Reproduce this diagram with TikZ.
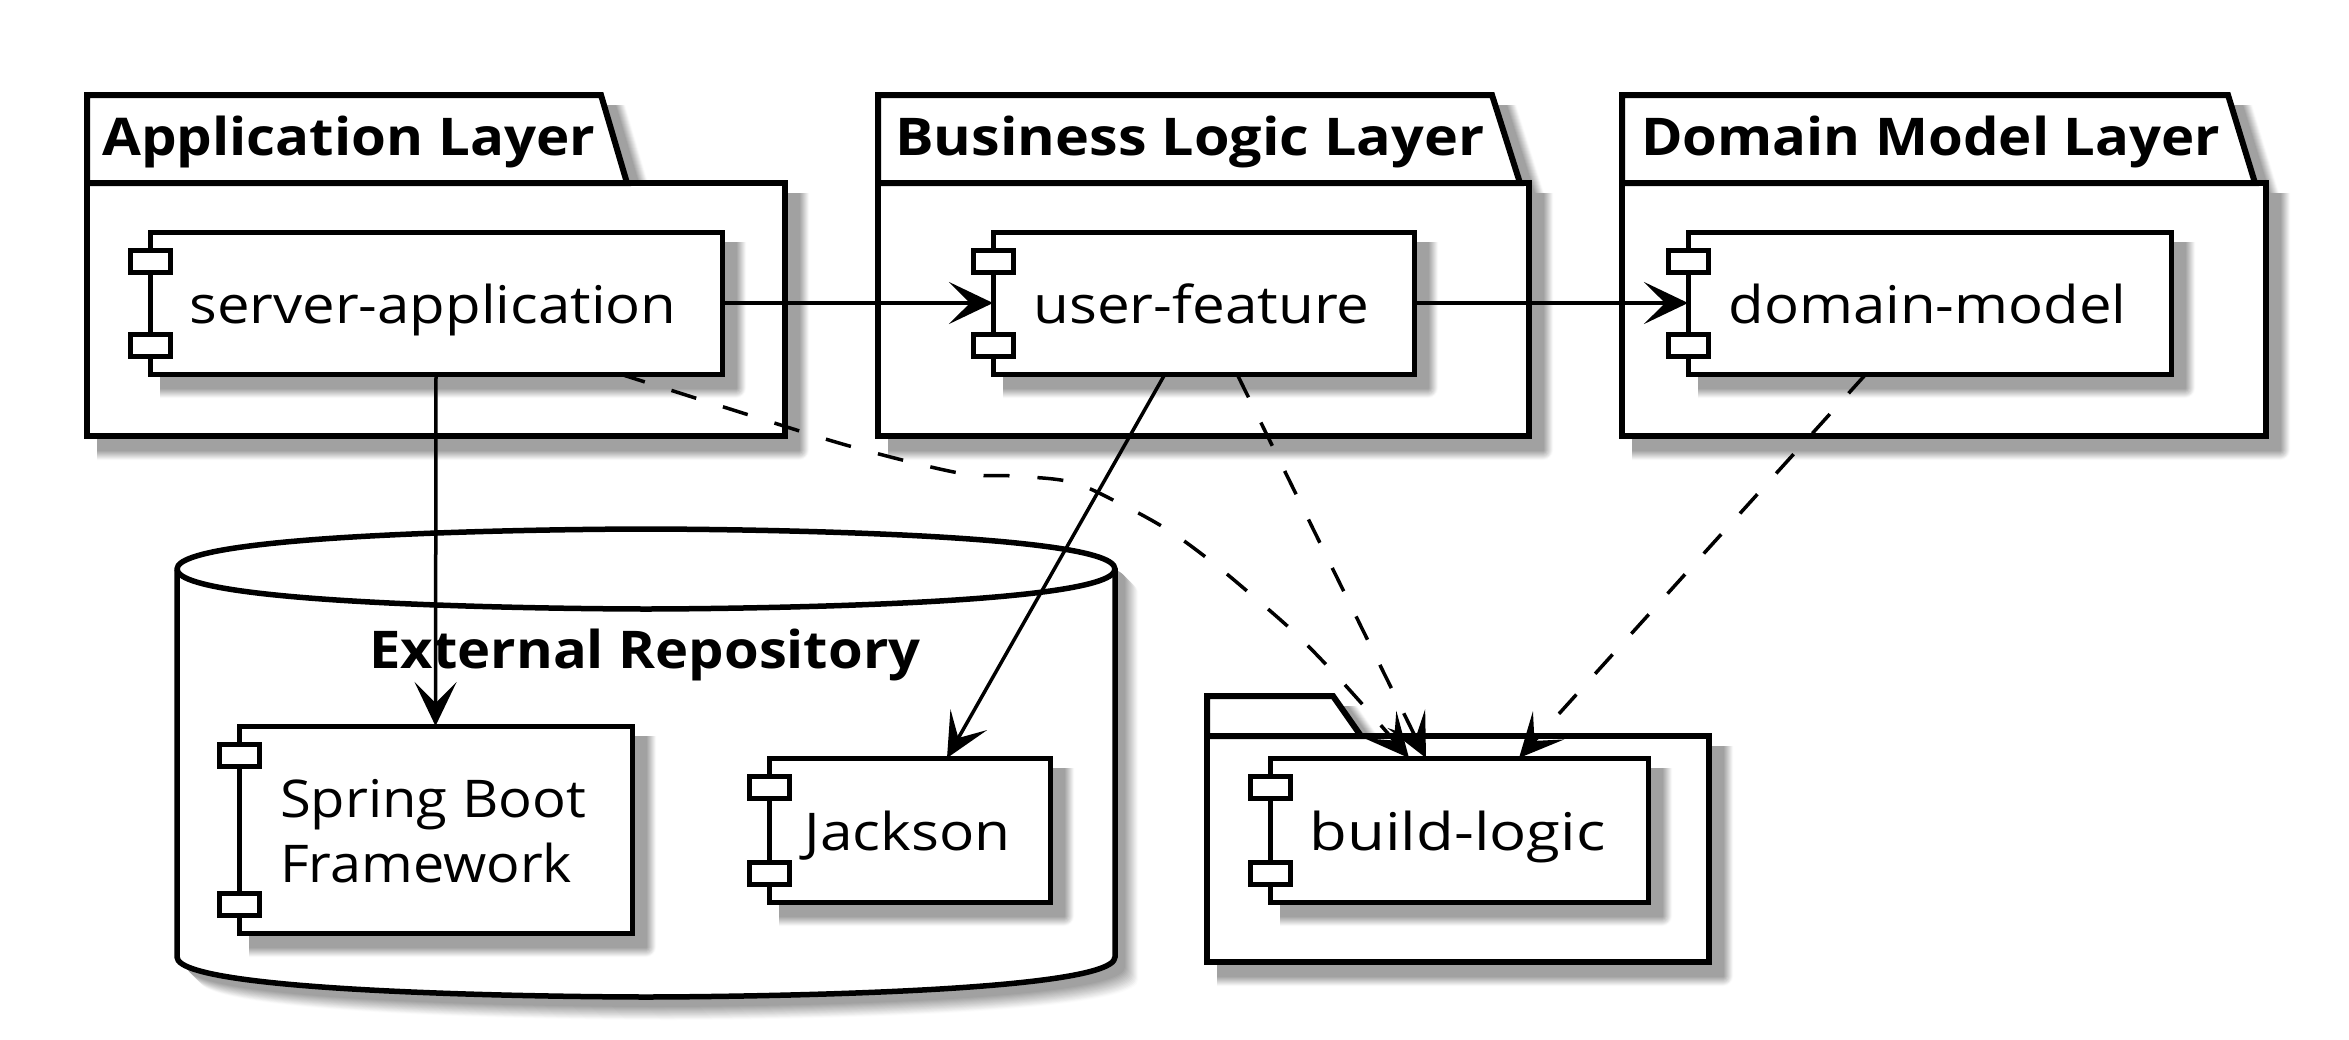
\documentclass[tikz,border=0pt]{standalone}
\usepackage{fontspec}
\usepackage{graphicx}
\setmainfont{Open Sans}
\usetikzlibrary{arrows.meta,calc}
\newcommand{\fitw}[2]{\resizebox{#1pt}{\height}{#2}}
\tikzset{
  compbox/.style={draw=black,fill=white,line width=5pt,inner sep=0pt,outer sep=0pt,text height=50pt,text depth=10pt,font=\fontsize{52}{65}\selectfont},
  compport/.style={draw=black,fill=white,line width=5pt},
  pkgbox/.style={draw=black,fill=white,line width=6pt,inner sep=0pt,outer sep=0pt},
  pkgtab/.style={draw=black,fill=white,line width=6pt,line join=miter},
  cyl/.style={draw=black,fill=white,line width=5.5pt},
  titletext/.style={inner sep=0pt,anchor=base west,font=\fontsize{52}{60}\selectfont\bfseries},
  uses/.style={draw=black,line width=3.5pt,-{Stealth[length=44pt,width=42pt,inset=21pt]}},
  dep/.style={uses,dash pattern=on 26pt off 28pt}
}
% rectangular shadow: l t r b
\newcommand{\rectshadow}[4]{%
  \foreach \k in {24,...,15}{%
    \pgfmathsetmacro{\p}{37*(24.5-\k)/9.5}%
    \pgfmathsetmacro{\rr}{max(\k-14,0.1)}%
    \fill[black!\p] (#1+10,#2+10) -- (#3+\k,#2+10) [rounded corners=\rr pt] -- (#3+\k,#4+\k) [sharp corners] -- (#1+10,#4+\k) -- cycle;
  }}
% component: name l t r b text
\newcommand{\comp}[6]{%
  \rectshadow{#2}{#3}{#4}{#5}%
  \pgfmathsetmacro{\ww}{#4-#2}\pgfmathsetmacro{\hh}{#5-#3}%
  \node[compbox,minimum width=\ww pt,minimum height=\hh pt] (#1) at ({(#2+#4)/2},{(#3+#5)/2}) {#6};
  \draw[compport] (#2-20,#3+18) rectangle (#2+20,#3+40);
  \draw[compport] (#2-20,#5-40) rectangle (#2+20,#5-18);
}
% package: name l tabtop bodytop r b tabTopRight tabBottomRight
\newcommand{\pkg}[8]{%
  \foreach \k in {24,...,15}{%
    \pgfmathsetmacro{\p}{37*(24.5-\k)/9.5}%
    \pgfmathsetmacro{\rr}{max(\k-14,0.1)}%
    \fill[black!\p] (#2+10,#3+10) -- (#7+\k,#3+10) -- (#8+\k,#4+10) -- (#5+\k,#4+10) [rounded corners=\rr pt] -- (#5+\k,#6+\k) [sharp corners] -- (#2+10,#6+\k) -- cycle;
  }
  \pgfmathsetmacro{\ww}{#5-#2}\pgfmathsetmacro{\hh}{#6-#4}%
  \node[pkgbox,minimum width=\ww pt,minimum height=\hh pt] (#1) at ({(#2+#5)/2},{(#4+#6)/2}) {};
  \draw[pkgtab] (#2,#4) -- (#2,#3) -- (#7,#3) -- (#8,#4) -- cycle;
}
\newcommand{\cylpath}[1]{(177,569) .. controls (177,529) and (646,529) .. (646,529) .. controls (646,529) and (1115,529) .. (1115,569) -- (1115,957) .. controls (1115,997) and (646,997) .. (646,997) .. controls (646,997) and (177,997) .. (177,957) -- cycle}
\begin{document}
\begin{tikzpicture}[x=1pt,y=-1pt]
\useasboundingbox (0,0) rectangle (2349,1039);
\fill[white] (0,0) rectangle (2349,1039);

% packages
\pkg{app}{87}{95}{183}{785}{436}{601}{627}
\node[titletext] (apptitle) at (102,155) {\fitw{493}{Application Layer}};
\pkg{biz}{878}{95}{183}{1529}{436}{1492}{1520}
\node[titletext] (biztitle) at (895,155) {\fitw{589}{Business Logic Layer}};
\pkg{dom}{1622}{95}{183}{2266}{436}{2228}{2255}
\node[titletext] (domtitle) at (1641,155) {\fitw{579}{Domain Model Layer}};

% database
\begin{scope}
  \clip (187,520) rectangle (1200,1039);
  \foreach \k in {23,...,10}{%
    \pgfmathsetmacro{\p}{37*(23.5-\k)/13.5}%
    \fill[black!\p,shift={(\k,\k)}] \cylpath{};
  }
\end{scope}
\draw[cyl] \cylpath{};
\draw[black,line width=5.5pt] (177,569) .. controls (177,609) and (646,609) .. (646,609) .. controls (646,609) and (1115,609) .. (1115,569);
\node[titletext,anchor=base] (exttitle) at (645,668) {\fitw{551}{External Repository}};

% build-logic package
\pkg{bld}{1207}{696}{736}{1709}{962}{1333}{1361}

% components
\comp{srv}{150}{232}{722}{374}{\hspace*{-6pt}\fitw{487}{server-application}}
\comp{uf}{993}{232}{1414}{374}{\hspace*{-4pt}\fitw{336}{user-feature}}
\comp{dm}{1688}{232}{2171}{374}{\hspace*{-4pt}\fitw{398}{domain-model}}
\comp{spring}{239}{726}{632}{933}{\hspace*{-5pt}\raisebox{-32.5pt}{\begin{minipage}[b]{306pt}\lineskip=0pt\baselineskip=65pt\fitw{306}{Spring Boot}\par\fitw{292}{Framework}\end{minipage}}}
\comp{jack}{769}{758}{1050}{902}{\hspace*{-4pt}\fitw{206}{Jackson}}
\comp{blogic}{1270}{758}{1648}{902}{\hspace*{-3pt}\fitw{296}{build-logic}}

% connectors
\draw[uses] (srv.east) -- (uf.west);
\draw[uses] (uf.east) -- (dm.west);
\draw[uses] (srv.south) -- (spring.north);
\draw[uses] ([xshift=-38.5pt]uf.south) -- ([xshift=37.5pt]jack.north);
\draw[dep] ([xshift=33.5pt]uf.south) .. controls +(35,71) and +(-33,-66) .. ([xshift=-33pt]blogic.north);
\draw[dep] ([xshift=-63.5pt]dm.south) -- ([xshift=60pt]blogic.north);
\coordinate (srvout) at ([xshift=184pt]srv.south);
\coordinate (bldin) at ([xshift=-50pt]blogic.north);
\draw[dep] plot[smooth,tension=0.55] coordinates {(srvout) (749,415) (853,447) (959,473) (1013,476) (1071,482) (1119,503) (1168,530) (1212,562) (1254,597) (1296,634) (1334,673) (1371,714) (bldin)};
\end{tikzpicture}
\end{document}
